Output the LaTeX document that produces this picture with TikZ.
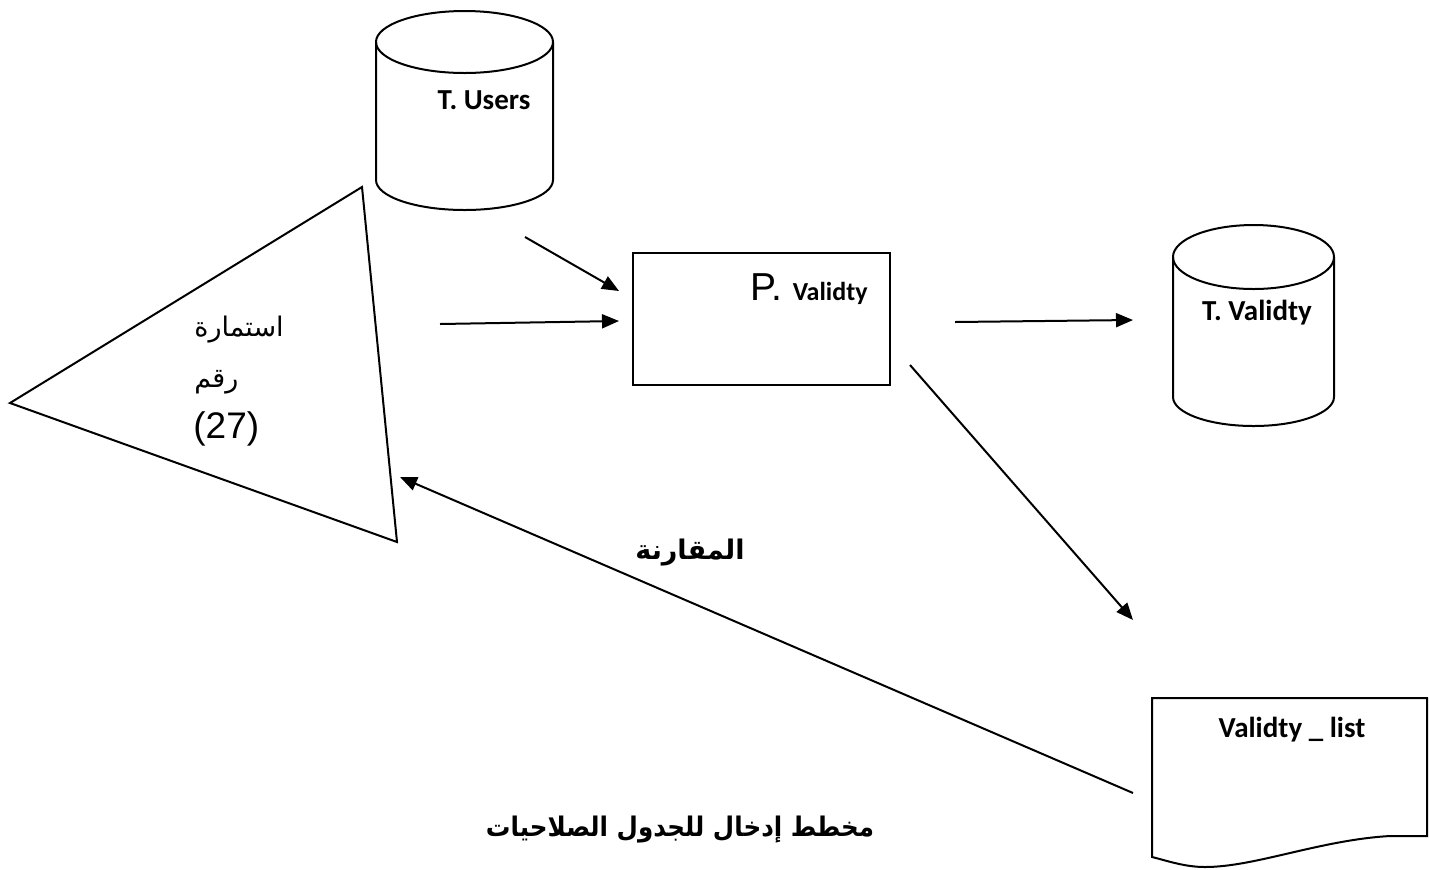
\documentclass[tikz,border=0pt]{standalone}
\usepackage{fontspec}
\usetikzlibrary{arrows.meta}
\TeXXeTstate=1
\newfontfamily\calfont{Carlito}
\newfontfamily\arfont[Script=Arabic]{DejaVu Sans}
\newfontfamily\arialfont{Liberation Sans}
\begin{document}
\begin{tikzpicture}[x=0.5pt,y=-0.5pt,
  shape line/.style={line width=1pt},
  conn/.style={line width=1pt,-{Triangle[length=8.5pt,width=7pt]}},
  boldlabel/.style={inner sep=0pt,font=\calfont\bfseries\fontsize{14.5}{17}\selectfont},
  arlabel/.style={inner sep=0pt,font=\arfont\fontsize{13.5}{16}\selectfont},
  arbold/.style={inner sep=0pt,font=\arfont\bfseries\fontsize{13.5}{16}\selectfont}]
\useasboundingbox (0,0) rectangle (1429,869);
% T. Users cylinder
\draw[shape line] (376,42) -- (376,180) arc[start angle=180,end angle=0,x radius=88.5,y radius=30] -- (553,42);
\draw[shape line] (464.5,42) ellipse [x radius=88.5,y radius=31];
\node[boldlabel] (tusers) at (484,100) {T. Users};
% Triangle form
\draw[shape line] (362,187) -- (10,403) -- (397,542) -- cycle;
\node[arlabel,anchor=base west] (f1) at (194,336) {\beginR استمارة\endR};
\node[arlabel,anchor=base west] (f2) at (194,387) {\beginR رقم\endR};
\node[inner sep=0pt,anchor=base west,font=\arialfont\fontsize{18.5}{21}\selectfont] (f3) at (193,438) {(27)};
% Process box
\draw[shape line] (633,253) rectangle (890,385);
\node[inner sep=0pt,anchor=base east] (proc) at (868,300) {{\arialfont\fontsize{19.5}{22}\selectfont P. }{\calfont\bfseries\fontsize{13}{15}\selectfont Validty}};
% T. Validty cylinder
\draw[shape line] (1173,257) -- (1173,397) arc[start angle=180,end angle=0,x radius=80.5,y radius=29] -- (1334,257);
\draw[shape line] (1253.5,257) ellipse [x radius=80.5,y radius=32];
\node[boldlabel] (tval) at (1257,313) {T. Validty};
% Document
\draw[shape line] (1152,698) -- (1427,698) -- (1427,836) -- (1390,836)
  .. controls (1320,840) and (1255,867) .. (1205,867)
  .. controls (1185,867) and (1168,861) .. (1152,857) -- cycle;
\node[boldlabel] (vlist) at (1292,730) {Validty \_ list};
% connector ends
\coordinate (a1s) at (525,237); \coordinate (a1e) at (619,291);
\coordinate (a2s) at (440,324); \coordinate (a2e) at (619,321);
\coordinate (a3s) at (955,322); \coordinate (a3e) at (1133,320);
\coordinate (a4s) at (910,365); \coordinate (a4e) at (1133,620);
\coordinate (a5s) at (1133,793); \coordinate (a5e) at (400,477);
\draw[conn] (a1s) -- (a1e);
\draw[conn] (a2s) -- (a2e);
\draw[conn] (a3s) -- (a3e);
\draw[conn] (a4s) -- (a4e);
\draw[conn] (a5s) -- (a5e);
% labels
\node[arbold] (cmp) at (690,553) {\beginR المقارنة\endR};
\node[arbold] (title) at (680,830) {\scalebox{0.91}[1]{\beginR مخطط إدخال للجدول الصلاحيات\endR}};
\end{tikzpicture}
\end{document}
